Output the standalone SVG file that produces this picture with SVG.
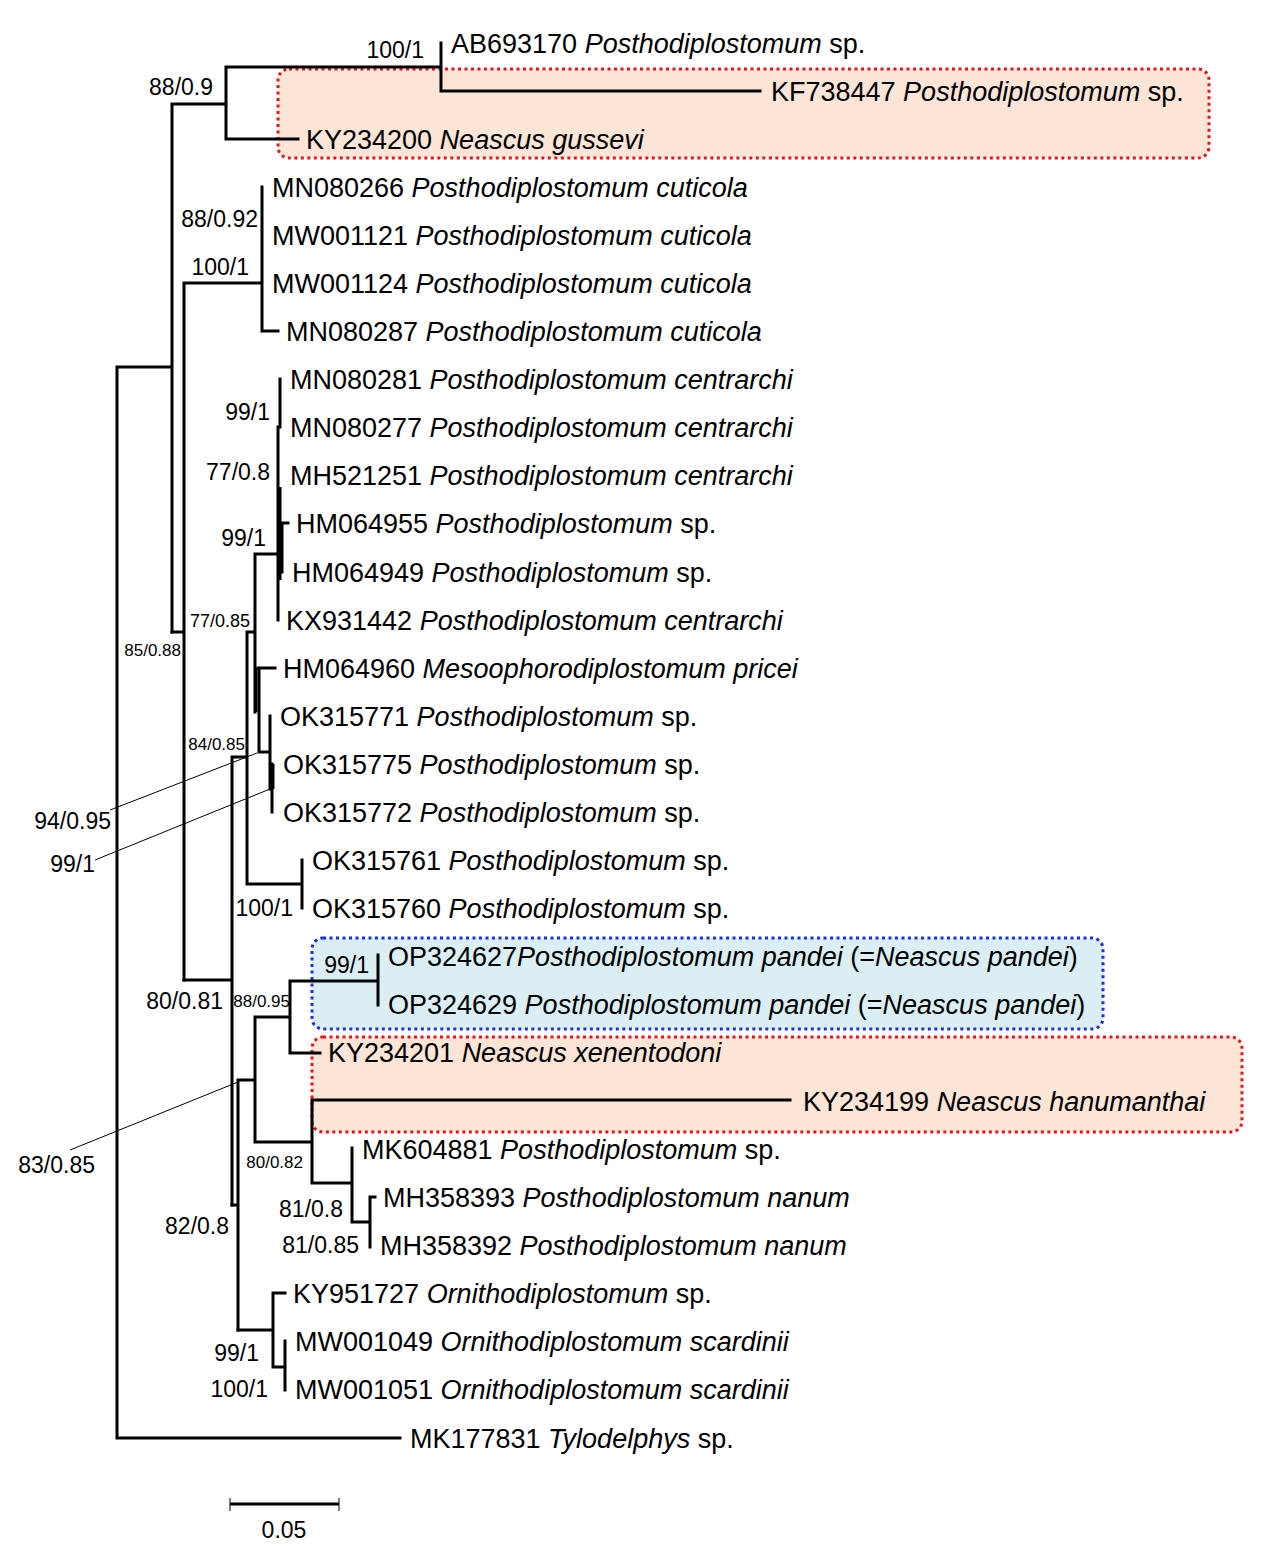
<svg xmlns="http://www.w3.org/2000/svg" width="1273" height="1559" viewBox="0 0 1273 1559">
<style>
text{font-family:"Liberation Sans",Arial,sans-serif;fill:#000}
.leaf{font-size:27px}
.sp{font-style:italic}
.bs{font-size:23px}
.bsm{font-size:17px}
.br{stroke:#000;stroke-width:3;fill:none;stroke-linecap:square}
.ld{stroke:#000;stroke-width:1;fill:none}
.boxr{fill:#fbe5d6;stroke:#e8141c;stroke-width:3;stroke-dasharray:3 3.5}
.boxb{fill:#daeef3;stroke:#1f2fe0;stroke-width:3;stroke-dasharray:3 3.5}
</style>
<rect width="1273" height="1559" fill="#fff"/>
<g id="highlights">
<rect class="boxr" x="278" y="69" width="931" height="89" rx="11"/>
<rect class="boxb" x="312" y="938" width="791" height="91" rx="11"/>
<rect class="boxr" x="312" y="1037" width="930" height="95" rx="11"/>
</g>
<g id="connectors">
<path class="br" d="M117 367V1438H400M117 367H172M172 104V632M172 104H226M226 67V139M226 67H441M441 43V91M441 91H760M226 139H298"/>
<path class="br" d="M172 632H184M184 283V980M184 283H262M262 187V331M262 331H278"/>
<path class="br" d="M184 980H232M232 757V1205M232 757H247M247 632V884M247 884H302M302 860V908M247 632H255M255 554V712M255 554H278M280 379V427M278 427V620M282 523V572M282 523H288"/>
<path stroke="#000" stroke-width="3" fill="none" d="M280 487V580M256 668V712"/>
<path class="br" d="M258 668H275M259 668V752M259 752H270M270 716V789M272 764V812"/>
<path stroke="#000" stroke-width="3" fill="none" d="M273 764V789"/>
<path class="br" d="M232 1205H238M238 1080V1330M238 1080H255M255 1017V1142M255 1017H290M290 981V1053M290 981H378M378 955V1005M290 1053H320M255 1142H312M312 1100V1183M312 1100H790M312 1183H352M352 1148V1222M352 1222H370M370 1197V1247M370 1197H375"/>
<path class="br" d="M238 1330H273M273 1293V1367M273 1293H285M273 1367H285M285 1341V1390"/>
<path class="ld" d="M110 810L257 753M95 860L270 789M70 1150L238 1082"/>
</g>
<g id="support-values">
<text class="bs" x="424" y="58" text-anchor="end">100/1</text>
<text class="bs" x="213" y="95" text-anchor="end">88/0.9</text>
<text class="bs" x="258" y="227" text-anchor="end">88/0.92</text>
<text class="bs" x="249" y="275" text-anchor="end">100/1</text>
<text class="bs" x="270" y="420" text-anchor="end">99/1</text>
<text class="bs" x="270" y="480" text-anchor="end">77/0.8</text>
<text class="bs" x="266" y="546" text-anchor="end">99/1</text>
<text class="bsm" x="250" y="627" text-anchor="end" style="font-size:18px">77/0.85</text>
<text class="bsm" x="181" y="656" text-anchor="end">85/0.88</text>
<text class="bsm" x="245" y="750" text-anchor="end">84/0.85</text>
<text class="bs" x="111" y="829" text-anchor="end">94/0.95</text>
<text class="bs" x="95" y="872" text-anchor="end">99/1</text>
<text class="bs" x="293" y="916" text-anchor="end">100/1</text>
<text class="bs" x="369" y="973" text-anchor="end">99/1</text>
<text class="bs" x="223" y="1009" text-anchor="end">80/0.81</text>
<text class="bsm" x="290" y="1007" text-anchor="end">88/0.95</text>
<text class="bsm" x="303" y="1168" text-anchor="end">80/0.82</text>
<text class="bs" x="95" y="1173" text-anchor="end">83/0.85</text>
<text class="bs" x="343" y="1217" text-anchor="end">81/0.8</text>
<text class="bs" x="229" y="1234" text-anchor="end">82/0.8</text>
<text class="bs" x="359" y="1253" text-anchor="end">81/0.85</text>
<text class="bs" x="259" y="1361" text-anchor="end">99/1</text>
<text class="bs" x="268" y="1397" text-anchor="end">100/1</text>
</g>
<g id="n1"><text class="leaf" x="451" y="53">AB693170 <tspan class="sp">Posthodiplostomum</tspan> sp.</text></g>
<g id="n2"><text class="leaf" x="771" y="101">KF738447 <tspan class="sp">Posthodiplostomum</tspan> sp.</text></g>
<g id="n3"><text class="leaf" x="306" y="149">KY234200 <tspan class="sp">Neascus gussevi</tspan></text></g>
<g id="n4"><text class="leaf" x="272" y="197">MN080266 <tspan class="sp">Posthodiplostomum cuticola</tspan></text></g>
<g id="n5"><text class="leaf" x="272" y="245">MW001121 <tspan class="sp">Posthodiplostomum cuticola</tspan></text></g>
<g id="n6"><text class="leaf" x="272" y="293">MW001124 <tspan class="sp">Posthodiplostomum cuticola</tspan></text></g>
<g id="n7"><text class="leaf" x="286" y="341">MN080287 <tspan class="sp">Posthodiplostomum cuticola</tspan></text></g>
<g id="n8"><text class="leaf" x="290" y="389">MN080281 <tspan class="sp">Posthodiplostomum centrarchi</tspan></text></g>
<g id="n9"><text class="leaf" x="290" y="437">MN080277 <tspan class="sp">Posthodiplostomum centrarchi</tspan></text></g>
<g id="n10"><text class="leaf" x="290" y="485">MH521251 <tspan class="sp">Posthodiplostomum centrarchi</tspan></text></g>
<g id="n11"><text class="leaf" x="296" y="533">HM064955 <tspan class="sp">Posthodiplostomum</tspan> sp.</text></g>
<g id="n12"><text class="leaf" x="292" y="582">HM064949 <tspan class="sp">Posthodiplostomum</tspan> sp.</text></g>
<g id="n13"><text class="leaf" x="286" y="630">KX931442 <tspan class="sp">Posthodiplostomum centrarchi</tspan></text></g>
<g id="n14"><text class="leaf" x="283" y="678">HM064960 <tspan class="sp">Mesoophorodiplostomum pricei</tspan></text></g>
<g id="n15"><text class="leaf" x="280" y="726">OK315771 <tspan class="sp">Posthodiplostomum</tspan> sp.</text></g>
<g id="n16"><text class="leaf" x="283" y="774">OK315775 <tspan class="sp">Posthodiplostomum</tspan> sp.</text></g>
<g id="n17"><text class="leaf" x="283" y="822">OK315772 <tspan class="sp">Posthodiplostomum</tspan> sp.</text></g>
<g id="n18"><text class="leaf" x="312" y="870">OK315761 <tspan class="sp">Posthodiplostomum</tspan> sp.</text></g>
<g id="n19"><text class="leaf" x="312" y="918">OK315760 <tspan class="sp">Posthodiplostomum</tspan> sp.</text></g>
<g id="n20"><text class="leaf" x="388" y="966">OP324627<tspan class="sp">Posthodiplostomum pandei</tspan> (=<tspan class="sp">Neascus pandei</tspan>)</text></g>
<g id="n21"><text class="leaf" x="388" y="1014">OP324629 <tspan class="sp">Posthodiplostomum pandei</tspan> (=<tspan class="sp">Neascus pandei</tspan>)</text></g>
<g id="n22"><text class="leaf" x="328" y="1062">KY234201 <tspan class="sp">Neascus xenentodoni</tspan></text></g>
<g id="n23"><text class="leaf" x="803" y="1111">KY234199 <tspan class="sp">Neascus hanumanthai</tspan></text></g>
<g id="n24"><text class="leaf" x="362" y="1159">MK604881 <tspan class="sp">Posthodiplostomum</tspan> sp.</text></g>
<g id="n25"><text class="leaf" x="383" y="1207">MH358393 <tspan class="sp">Posthodiplostomum nanum</tspan></text></g>
<g id="n26"><text class="leaf" x="380" y="1255">MH358392 <tspan class="sp">Posthodiplostomum nanum</tspan></text></g>
<g id="n27"><text class="leaf" x="293" y="1303">KY951727 <tspan class="sp">Ornithodiplostomum</tspan> sp.</text></g>
<g id="n28"><text class="leaf" x="295" y="1351">MW001049 <tspan class="sp">Ornithodiplostomum scardinii</tspan></text></g>
<g id="n29"><text class="leaf" x="295" y="1399">MW001051 <tspan class="sp">Ornithodiplostomum scardinii</tspan></text></g>
<g id="n30"><text class="leaf" x="410" y="1448">MK177831 <tspan class="sp">Tylodelphys</tspan> sp.</text></g>
<g id="scale">
<path stroke="#000" stroke-width="3" d="M230 1504H339"/>
<path stroke="#000" stroke-width="1" d="M230 1498V1511M339 1498V1511"/>
<text class="bs" x="284" y="1538" text-anchor="middle">0.05</text>
</g>
</svg>
